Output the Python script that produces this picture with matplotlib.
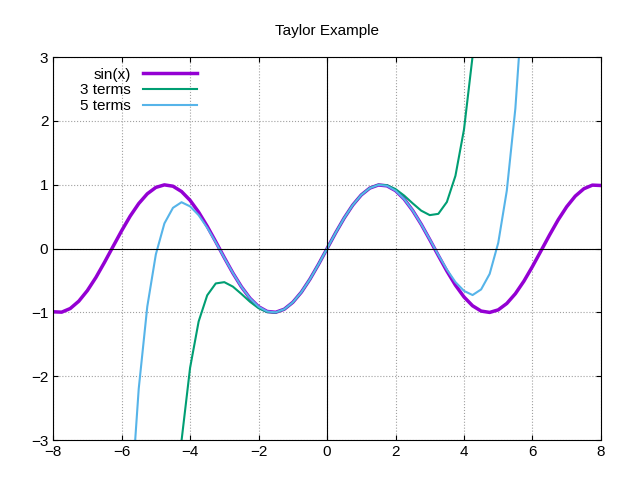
import matplotlib.pyplot as plt

plt.rcParams['font.family'] = 'Liberation Sans'

# values (x step 0.25, positive half; curves are odd)
x_pos = [0, 0.25, 0.5, 0.75, 1, 1.25, 1.5, 1.75, 2, 2.25, 2.5, 2.75, 3, 3.25, 3.5, 3.75,
         4, 4.25, 4.5, 4.75, 5, 5.25, 5.5, 5.75, 6, 6.25, 6.5, 6.75, 7, 7.25, 7.5, 7.75, 8]
sin_pos = [0, 0.247, 0.479, 0.682, 0.841, 0.949, 0.997, 0.984, 0.909, 0.778, 0.598, 0.382,
           0.141, -0.108, -0.351, -0.572, -0.757, -0.895, -0.978, -0.999, -0.959, -0.859,
           -0.706, -0.509, -0.279, -0.033, 0.215, 0.451, 0.657, 0.823, 0.938, 0.995, 0.989]
t3_pos = [0, 0.247, 0.479, 0.682, 0.842, 0.950, 1.001, 0.994, 0.933, 0.832, 0.710, 0.595,
          0.525, 0.545, 0.731, 1.141, 1.867, 3.010, 4.690]
t5_pos = [0, 0.247, 0.479, 0.682, 0.841, 0.949, 0.998, 0.984, 0.909, 0.778, 0.599, 0.382,
          0.145, -0.099, -0.328, -0.524, -0.662, -0.727, -0.639, -0.395, 0.090, 0.908,
          2.195, 4.146]


def mirror(xs, ys):
    n = len(ys)
    xx = [-v for v in reversed(xs[1:n])] + xs[:n]
    yy = [-v for v in reversed(ys[1:])] + ys
    return xx, yy


fig = plt.figure(figsize=(6.4, 4.8), dpi=100)
ax = fig.add_subplot(111)
fig.subplots_adjust(left=0.083, right=0.939, top=0.881, bottom=0.083)

xs, ys = mirror(x_pos, sin_pos)
ax.plot(xs, ys, color='#9400d3', lw=2.5, label='sin(x)')
xs, ys = mirror(x_pos, t3_pos)
ax.plot(xs, ys, color='#009e73', lw=1.5, label='3 terms')
xs, ys = mirror(x_pos, t5_pos)
ax.plot(xs, ys, color='#56b4e9', lw=1.5, label='5 terms')

ax.axhline(0, color='black', lw=0.8)
ax.axvline(0, color='black', lw=0.8)
ax.set_xlim(-8, 8)
ax.set_ylim(-3, 3)
ax.set_xticks(range(-8, 9, 2))
ax.set_yticks(range(-3, 4))
ax.grid(True, color='#a0a0a0', linestyle=':', lw=0.8)
ax.tick_params(direction='in', top=True, right=True, labelsize=11)
for s in ax.spines.values():
    s.set_linewidth(0.8)
ax.set_title('Taylor Example', fontsize=11, pad=16)
ax.legend(loc='upper left', frameon=False, markerfirst=False, fontsize=11,
          handlelength=3.5, borderaxespad=0.3, labelspacing=0.1,
          bbox_to_anchor=(0.03, 1.0))

fig.savefig('out.png', dpi=100)
